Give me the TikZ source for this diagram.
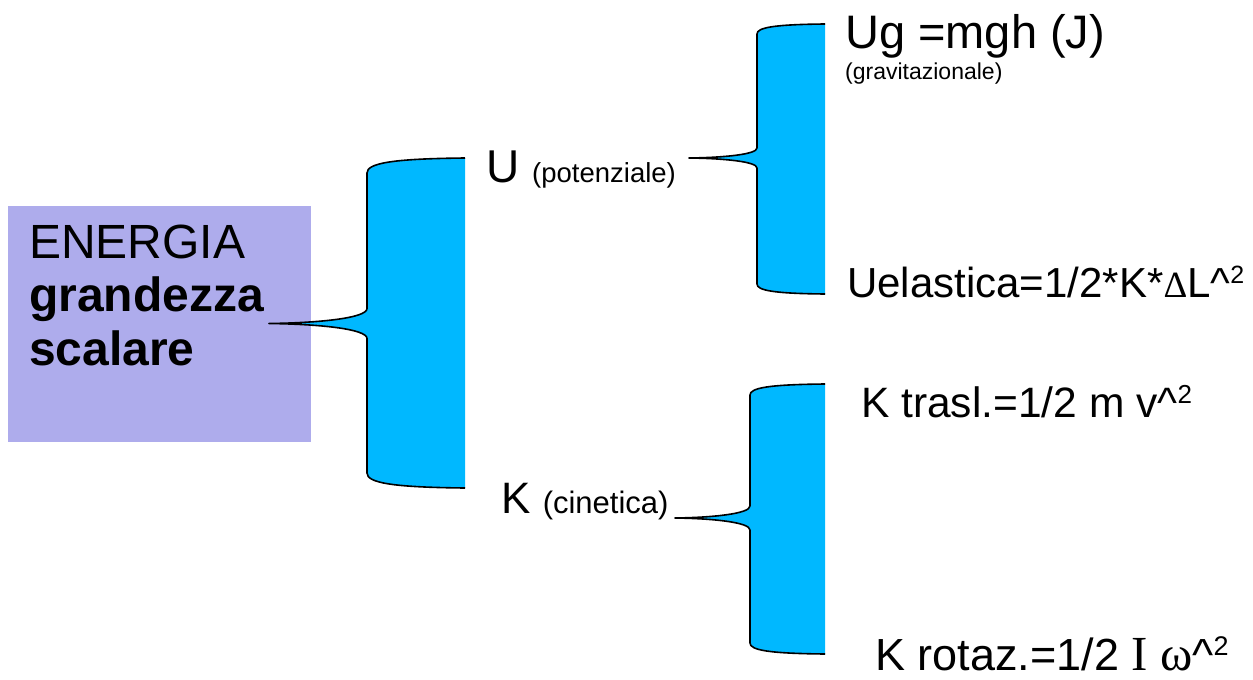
\documentclass[tikz,border=0pt]{standalone}
\usepackage{fontspec}
\setmainfont{Liberation Sans}
\newfontfamily\symfont{Liberation Serif}
\definecolor{bracecyan}{RGB}{0,184,255}
\definecolor{boxlav}{RGB}{174,172,236}
\tikzset{
  bracefill/.style={fill=bracecyan},
  braceline/.style={draw=black, line width=1.6pt, line join=round},
  lbl/.style={anchor=base west, inner sep=0pt, text=black},
}
% Half-open curly brace: #1 right x, #2 spine x, #3 top y, #4 tip x,
% #5 tip y, #6 bottom y, #7 corner depth, #8 half height of the tip
\newcommand\curlybrace[8]{%
  \def\bracepath{%
    (#1,#3) .. controls ({#2+0.25*(#1-#2)},{#3+0.05*#7}) and (#2,{#3+0.35*#7}) .. (#2,{#3+#7})
    -- (#2,{#5-#8})
    .. controls (#2,{#5-0.35*#8}) and ({#2-0.5*(#2-#4)},{#5-0.04*#8}) .. (#4,#5)
    .. controls ({#2-0.5*(#2-#4)},{#5+0.04*#8}) and (#2,{#5+0.35*#8}) .. (#2,{#5+#8})
    -- (#2,{#6-#7})
    .. controls (#2,{#6-0.35*#7}) and ({#2+0.25*(#1-#2)},{#6-0.05*#7}) .. (#1,#6)}%
  \fill[bracefill] \bracepath -- cycle;
  \draw[braceline] \bracepath;
}
% caret followed by a raised small 2: #1 size of the 2, #2 its lift
\newcommand\sqr[2]{\textasciicircum\raisebox{#2}{\fontsize{#1}{#1}\selectfont 2}}
\begin{document}
\begin{tikzpicture}[x=1pt,y=-1pt]
\useasboundingbox (0,0) rectangle (1253,680);
\fill[white] (0,0) rectangle (1253,680);

% energy box
\node[fill=boxlav, minimum width=303pt, minimum height=236pt, inner sep=0pt, anchor=north west] (box) at (8,206) {};
\node[lbl, font=\fontsize{48}{54}\selectfont] (t1) at (29,258) {ENERGIA};
\node[lbl, font=\fontsize{48}{54}\selectfont\bfseries] (t2) at (29,311) {grandezza};
\node[lbl, font=\fontsize{48}{54}\selectfont\bfseries] (t3) at (29,365) {scalare};

% braces
\curlybrace{465}{367}{158}{269}{323.5}{488}{15}{15}
\curlybrace{825}{757}{24}{689}{158}{294}{10}{10}
\curlybrace{825}{750}{384}{675}{518}{654}{11}{12}

% second level
\node[lbl, font=\fontsize{46}{50}\selectfont] (u) at (486,182) {U\ {\fontsize{27.5}{30}\selectfont(potenziale)}};
\node[lbl, font=\fontsize{44}{50}\selectfont] (k) at (501,513) {K\ {\fontsize{31}{34}\selectfont(cinetica)}};

% third level
\node[lbl, font=\fontsize{47}{50}\selectfont] (ug) at (845,48) {Ug =mgh (J)};
\node[lbl, font=\fontsize{23}{25}\selectfont] (ugr) at (845,79) {(gravitazionale)};
\node[lbl, font=\fontsize{42}{46}\selectfont] (ue) at (847,297) {Uelastica=1/2*K*{\symfont\fontsize{37}{40}\selectfont Δ}L\sqr{25}{14pt}};
\node[lbl, font=\fontsize{42.5}{46}\selectfont] (kt) at (861,417) {K trasl.=1/2 m v\sqr{26}{14pt}};
\node[lbl, font=\fontsize{45}{50}\selectfont, text depth=0pt] (kr) at (875,670) {K rotaz.=1/2 {\symfont\fontsize{49}{50}\selectfont I ω}\sqr{27}{15pt}};
\end{tikzpicture}
\end{document}
